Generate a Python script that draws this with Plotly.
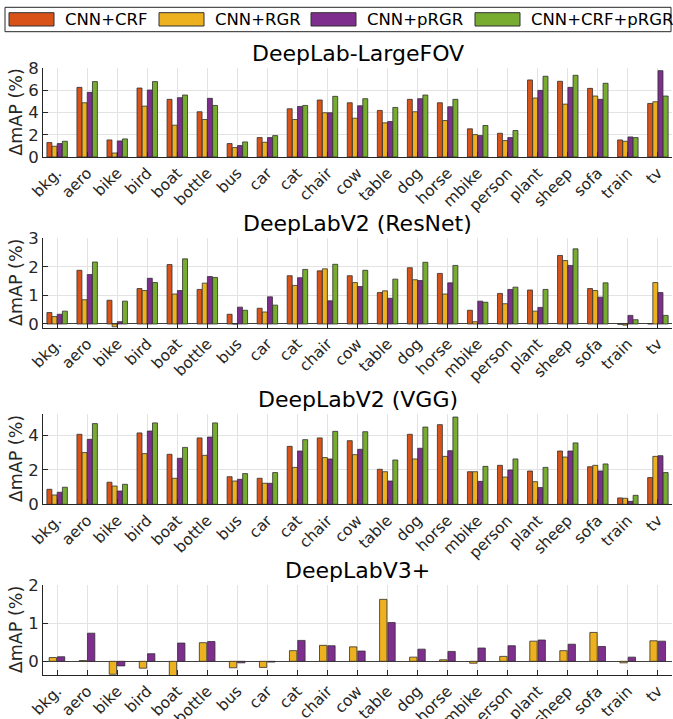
import plotly.graph_objects as go
from plotly.subplots import make_subplots

categories = ["bkg.", "aero", "bike", "bird", "boat", "bottle", "bus", "car", "cat", "chair",
              "cow", "table", "dog", "horse", "mbike", "person", "plant", "sheep", "sofa", "train", "tv"]
series_names = ["CNN+CRF", "CNN+RGR", "CNN+pRGR", "CNN+CRF+pRGR"]
colors = ["#D95319", "#EDB120", "#7E2F8E", "#77AC30"]

# DeepLab-LargeFOV
lfov_crf = [1.30, 6.28, 1.54, 6.22, 5.20, 4.08, 1.21, 1.75, 4.35, 5.14, 4.89, 4.20, 5.20, 4.89, 2.54, 2.14, 6.95, 6.83, 6.19, 1.54, 4.83]
lfov_rgr = [0.97, 4.89, 0.36, 4.59, 2.87, 3.38, 0.85, 1.33, 3.38, 3.99, 3.50, 3.08, 4.08, 3.29, 2.02, 1.48, 5.32, 4.77, 5.50, 1.42, 4.98]
lfov_prgr = [1.21, 5.83, 1.45, 6.04, 5.35, 5.29, 1.03, 1.75, 4.56, 3.99, 4.62, 3.20, 5.26, 4.53, 1.93, 1.75, 6.01, 6.28, 5.20, 1.81, 7.79]
lfov_crf_prgr = [1.42, 6.80, 1.63, 6.80, 5.59, 4.65, 1.36, 1.93, 4.65, 5.47, 5.26, 4.47, 5.59, 5.20, 2.84, 2.39, 7.28, 7.37, 6.65, 1.75, 5.50]

# DeepLabV2 (ResNet)
res_crf = [0.40, 1.88, 0.83, 1.24, 2.08, 1.21, 0.34, 0.55, 1.69, 1.86, 1.69, 1.10, 1.97, 1.77, 0.48, 1.07, 1.19, 2.40, 1.24, -0.01, 0.01]
res_rgr = [0.26, 0.85, -0.10, 1.17, 1.05, 1.43, 0.00, 0.42, 1.35, 1.93, 1.45, 1.16, 1.55, 1.05, 0.08, 0.71, 0.45, 2.22, 1.17, -0.04, 1.45]
res_prgr = [0.34, 1.73, 0.08, 1.60, 1.17, 1.66, 0.59, 0.95, 1.62, 0.81, 1.31, 0.90, 1.52, 1.44, 0.80, 1.21, 0.58, 2.05, 0.94, 0.30, 1.10]
res_crf_prgr = [0.45, 2.17, 0.80, 1.45, 2.28, 1.63, 0.48, 0.66, 1.91, 2.09, 1.88, 1.57, 2.16, 2.05, 0.76, 1.29, 1.21, 2.63, 1.44, 0.15, 0.30]

# DeepLabV2 (VGG)
vgg_crf = [0.87, 4.06, 1.28, 4.14, 2.90, 3.85, 1.60, 1.51, 3.36, 3.85, 3.69, 2.03, 4.06, 4.62, 1.89, 2.26, 1.93, 3.09, 2.18, 0.37, 1.55]
vgg_rgr = [0.54, 3.00, 1.06, 2.94, 1.51, 2.84, 1.35, 1.22, 2.14, 2.71, 2.88, 1.89, 2.63, 2.78, 1.89, 1.58, 1.31, 2.74, 2.26, 0.35, 2.78]
vgg_prgr = [0.70, 3.77, 0.77, 4.25, 2.67, 3.90, 1.45, 1.22, 3.09, 2.63, 3.19, 1.35, 3.25, 3.11, 1.33, 1.99, 0.97, 3.09, 1.93, 0.17, 2.82]
vgg_crf_prgr = [0.99, 4.68, 1.16, 4.72, 3.30, 4.72, 1.78, 1.84, 3.75, 4.23, 4.21, 2.57, 4.48, 5.06, 2.20, 2.63, 2.14, 3.56, 2.34, 0.52, 1.84]

# DeepLabV3+
v3_rgr = [0.10, 0.02, -0.34, -0.18, -0.40, 0.49, -0.17, -0.16, 0.28, 0.42, 0.38, 1.63, 0.11, 0.04, -0.05, 0.13, 0.53, 0.28, 0.76, -0.04, 0.54]
v3_prgr = [0.12, 0.74, -0.12, 0.20, 0.48, 0.52, -0.04, -0.02, 0.55, 0.41, 0.27, 1.02, 0.32, 0.26, 0.35, 0.41, 0.56, 0.45, 0.39, 0.11, 0.53]

titles = ["DeepLab-LargeFOV", "DeepLabV2 (ResNet)", "DeepLabV2 (VGG)", "DeepLabV3+"]
y_ranges = [[0, 8], [-0.13, 3], [0, 5.22], [-0.36, 2]]
y_ticks = [[0, 2, 4, 6, 8], [0, 1, 2, 3], [0, 2, 4], [0, 1, 2]]

W, H = 673, 719
ML, MR = 43, 1
PW = W - ML - MR
panels_px = [(68.3, 157), (238.3, 327.7), (414.3, 504.3), (585.3, 675)]
domains = [[(H - b) / H, (H - t) / H] for t, b in panels_px]


def px_x(x):
    return (x - ML) / PW


def px_y(y):
    return (H - y) / H


FONT = "DejaVu Sans"
fig = make_subplots(rows=4, cols=1)

panel_data = [
    [lfov_crf, lfov_rgr, lfov_prgr, lfov_crf_prgr],
    [res_crf, res_rgr, res_prgr, res_crf_prgr],
    [vgg_crf, vgg_rgr, vgg_prgr, vgg_crf_prgr],
]
bw4 = 0.165
for p, data in enumerate(panel_data):
    for s, vals in enumerate(data):
        fig.add_trace(go.Bar(
            x=list(range(len(categories))), y=vals, name=series_names[s],
            marker=dict(color=colors[s], line=dict(color="#303030", width=0.8)),
            width=bw4, offset=-2 * bw4 - 0.01 + s * (bw4 + 0.007),
            showlegend=False),
            row=p + 1, col=1)

bw2 = 0.245
for s, (vals, ci) in enumerate([(v3_rgr, 1), (v3_prgr, 2)]):
    fig.add_trace(go.Bar(
        x=list(range(len(categories))), y=vals, name=series_names[ci],
        marker=dict(color=colors[ci], line=dict(color="#303030", width=0.8)),
        width=bw2, offset=-bw2 - 0.02 + s * (bw2 + 0.03),
        showlegend=False),
        row=4, col=1)

for i in range(4):
    ax = "" if i == 0 else str(i + 1)
    fig.layout["xaxis" + ax].update(
        domain=[0, 1], range=[-0.47, 20.47], tickmode="array",
        tickvals=list(range(len(categories))), ticktext=categories,
        tickangle=-45, tickfont=dict(family=FONT, size=15.5, color="#262626"),
        ticks="inside", ticklen=5, tickcolor="#262626",
        showgrid=True, gridcolor="#e3e3e3", gridwidth=1,
        showline=True, linecolor="#262626", linewidth=1, mirror=False,
        zeroline=False, automargin=False)
    fig.layout["yaxis" + ax].update(
        domain=domains[i], range=y_ranges[i], tickvals=y_ticks[i],
        tickfont=dict(family=FONT, size=16.5, color="#262626"),
        ticks="inside", ticklen=5, tickcolor="#262626",
        showgrid=True, gridcolor="#e3e3e3", gridwidth=1,
        showline=True, linecolor="#262626", linewidth=1,
        zeroline=(i in (1, 3)), zerolinecolor="#404040", zerolinewidth=1.2,
        automargin=False)
    fig.add_annotation(text=titles[i], xref="paper", yref="paper",
                       x=0.5, y=domains[i][1], yanchor="bottom", yshift=0,
                       showarrow=False, font=dict(family=FONT, size=22, color="black"))
    fig.add_annotation(text="ΔmAP (%)", xref="paper", yref="paper",
                       x=px_x(16), y=(domains[i][0] + domains[i][1]) / 2,
                       xanchor="center", yanchor="middle", textangle=-90,
                       showarrow=False, font=dict(family=FONT, size=17.5, color="#262626"))

# Legend drawn as a boxed row of swatches and labels
fig.add_shape(type="rect", xref="paper", yref="paper",
              x0=px_x(5), x1=px_x(671), y0=px_y(31.7), y1=px_y(7.3),
              line=dict(color="#262626", width=1), fillcolor="white", layer="above")
legend_x = [9, 159, 311, 475]
for s in range(4):
    x0 = legend_x[s]
    fig.add_shape(type="rect", xref="paper", yref="paper",
                  x0=px_x(x0), x1=px_x(x0 + 45), y0=px_y(26), y1=px_y(12.7),
                  line=dict(color="#303030", width=1), fillcolor=colors[s], layer="above")
    fig.add_annotation(text=series_names[s], xref="paper", yref="paper",
                       x=px_x(x0 + 54), y=px_y(19.5), xanchor="left", yanchor="middle",
                       showarrow=False, font=dict(family=FONT, size=16.5, color="black"))

fig.update_layout(
    width=W, height=H, barmode="overlay",
    margin=dict(l=ML, r=MR, t=0, b=0),
    plot_bgcolor="white", paper_bgcolor="white",
    font=dict(family=FONT, color="#262626"),
    showlegend=False,
)

fig.write_html("out.html", config={"displayModeBar": False},
               post_script="document.body.style.margin='0';document.body.style.overflow='hidden';")
